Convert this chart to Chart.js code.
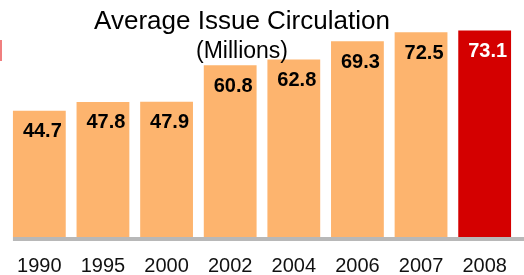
<!DOCTYPE html>
<html>
<head>
<meta charset="utf-8">
<script src="https://cdn.jsdelivr.net/npm/chart.js@4"></script>
<style>
  html, body { margin: 0; padding: 0; background: #fff; }
  #wrap { width: 524px; height: 275px; position: relative; }
</style>
</head>
<body>
<div id="wrap"><canvas id="chart" width="524" height="275"></canvas></div>
<script>
// Datos del gráfico
const years = ['1990', '1995', '2000', '2002', '2004', '2006', '2007', '2008'];
const circulation = [44.7, 47.8, 47.9, 60.8, 62.8, 69.3, 72.5, 73.1];
const barColors = ['#FDB46E', '#FDB46E', '#FDB46E', '#FDB46E', '#FDB46E', '#FDB46E', '#FDB46E', '#D40000'];
const labelColors = ['#000', '#000', '#000', '#000', '#000', '#000', '#000', '#fff'];

const FONT = '"Liberation Sans", Arial, sans-serif';

// Etiquetas de valor dentro de las barras, título y detalles
const decorPlugin = {
    id: 'decor',
    afterDatasetsDraw(chart) {
        const ctx = chart.ctx;
        const meta = chart.getDatasetMeta(0);
        ctx.save();
        ctx.font = 'bold 20px ' + FONT;
        ctx.textAlign = 'center';
        ctx.textBaseline = 'middle';
        meta.data.forEach((bar, i) => {
            ctx.fillStyle = labelColors[i];
            ctx.fillText(circulation[i].toFixed(1), bar.x + 3, bar.y + 21);
        });

        // línea del eje
        const area = chart.chartArea;
        const first = meta.data[0];
        ctx.fillStyle = '#B8B8B8';
        ctx.fillRect(first.x - first.width / 2, area.bottom, chart.width, 4);

        // título
        ctx.fillStyle = '#000';
        ctx.textBaseline = 'alphabetic';
        ctx.font = '26px ' + FONT;
        ctx.fillText('Average Issue Circulation', 242, 29);
        ctx.font = '23px ' + FONT;
        ctx.fillText('(Millions)', 242, 58);

        // marca roja en el borde
        ctx.fillStyle = '#F07F7F';
        ctx.fillRect(0, 40, 2, 21);
        ctx.restore();
    }
};

new Chart(document.getElementById('chart'), {
    type: 'bar',
    data: {
        labels: years,
        datasets: [{
            data: circulation,
            backgroundColor: barColors,
            borderWidth: 0,
            barPercentage: 0.83,
            categoryPercentage: 1
        }]
    },
    options: {
        responsive: false,
        animation: false,
        layout: { padding: { left: 5, right: 4, top: 11, bottom: 0 } },
        plugins: {
            legend: { display: false },
            tooltip: { enabled: false }
        },
        scales: {
            x: {
                grid: { display: false, drawTicks: false },
                border: { display: false },
                afterFit: (scale) => { scale.height = 38; },
                ticks: {
                    color: '#111',
                    padding: 17,
                    font: { family: FONT, size: 20 }
                }
            },
            y: {
                display: false,
                min: 0,
                max: 80
            }
        }
    },
    plugins: [decorPlugin]
});
</script>
</body>
</html>
